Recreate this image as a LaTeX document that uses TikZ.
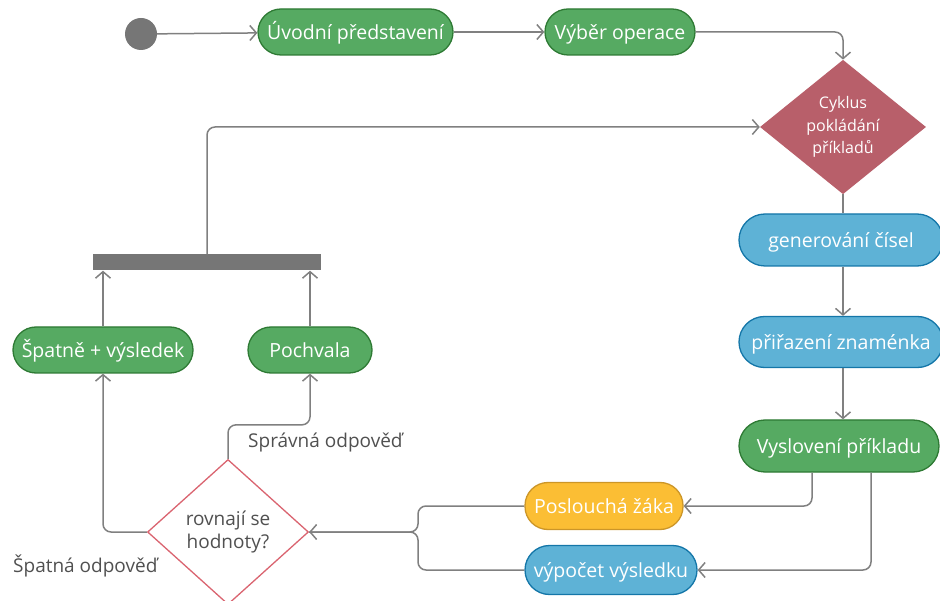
\documentclass[tikz,border=0pt]{standalone}
\usepackage{fontspec}
\setmainfont{Open Sans}
\usetikzlibrary{arrows.meta,shapes.geometric}

\definecolor{gfill}{RGB}{86,170,98}
\definecolor{gline}{RGB}{46,122,52}
\definecolor{bfill}{RGB}{94,178,214}
\definecolor{bline}{RGB}{20,118,168}
\definecolor{yfill}{RGB}{251,190,52}
\definecolor{yline}{RGB}{204,150,40}
\definecolor{crim}{RGB}{184,95,106}
\definecolor{pinkline}{RGB}{218,100,112}
\definecolor{wire}{RGB}{128,128,128}
\definecolor{darkgray}{RGB}{80,80,80}
\definecolor{barfill}{RGB}{118,118,118}

\tikzset{
  pill/.style={rectangle, rounded corners=23pt, draw, line width=1.3pt, minimum height=46pt,
    inner xsep=4pt, inner ysep=0pt, text height=18pt, text depth=3pt,
    text=white, font=\fontsize{19.5}{22}\selectfont},
  greenpill/.style={pill, fill=gfill, draw=gline},
  bluepill/.style={pill, fill=bfill, draw=bline},
  yellowpill/.style={pill, fill=yfill, draw=yline},
  conn/.style={draw=wire, line width=1.5pt, rounded corners=8pt},
  arr/.style={conn, -{Straight Barb[length=6.5pt,width=15pt]}},
  lbl/.style={text=darkgray, font=\fontsize{19}{22}\selectfont, inner sep=0pt}
}

\begin{document}
\begin{tikzpicture}[x=1pt,y=-1pt]
  \useasboundingbox (0,0) rectangle (940,601);

  % start point and first activities
  \node[circle, fill=barfill, minimum size=32pt, inner sep=0pt] (start) at (141,34) {};
  \node[greenpill, minimum width=195pt] (intro) at (355.5,32) {Úvodní představení};
  \node[greenpill, minimum width=150pt] (choice) at (620,32) {Výběr operace};

  % loop decision
  \node[diamond, fill=crim, minimum width=166pt, minimum height=133pt, inner sep=0pt,
        text=white, align=center, font=\fontsize{16}{22.5}\selectfont] (cycle) at (843,127)
        {Cyklus\\pokládání\\příkladů};

  % right column
  \node[bluepill, rounded corners=26pt, minimum width=204pt, minimum height=52pt] (gen) at (841,240) {generování čísel};
  \node[bluepill, rounded corners=25.5pt, minimum width=204pt, minimum height=51pt] (sign) at (841,342) {přiřazení znaménka};
  \node[greenpill, rounded corners=26pt, minimum width=200pt, minimum height=52pt] (say) at (839,446) {Vyslovení příkladu};

  \node[yellowpill, minimum width=158pt, minimum height=47pt] (listen) at (604,506) {Poslouchá žáka};
  \node[bluepill, rounded corners=24.5pt, minimum width=172pt, minimum height=49pt] (calc) at (611,570) {výpočet výsledku};

  % comparison
  \node[diamond, fill=white, draw=pinkline, line width=1.3pt, minimum width=161pt,
        minimum height=145pt, inner sep=0pt, text=darkgray, align=center,
        font=\fontsize{19}{23}\selectfont] (cmp) at (228,532) {rovnají se\\hodnoty?};

  \node[greenpill, minimum width=180pt] (bad) at (103,350) {Špatně + výsledek};
  \node[greenpill, minimum width=124pt] (praise) at (310,350) {Pochvala};

  % join bar
  \node[fill=barfill, minimum width=228pt, minimum height=16pt, inner sep=0pt] (bar) at (207,262.5) {};

  % labels
  \node[lbl, anchor=west] (oklbl) at (248,443) {Správná odpověď};
  \node[lbl, anchor=west] (badlbl) at (13,566) {Špatná odpověď};

  % connectors
  \draw[arr] (start) -- (intro);
  \draw[arr] (intro) -- (choice);
  \draw[arr] (choice.east) -| (cycle.north);
  \draw[conn] (cycle.south) -- (cycle.south |- gen.north);
  \draw[arr] (cycle.south |- gen.south) -- (cycle.south |- sign.north);
  \draw[arr] (cycle.south |- sign.south) -- (cycle.south |- say.north);
  \draw[arr] ([xshift=-27pt]say.south) |- (listen.east);
  \draw[arr] ([xshift=32pt]say.south) |- (calc.east);

  \coordinate (join) at (418,532);
  \draw[conn] (listen.west) -| (join) -- (cmp.east);
  \draw[arr] (calc.west) -| (join) -- (cmp.east);

  \draw[arr] (cmp.west) -| (bad.south);
  \draw[arr] (cmp.north) -- ++(0,-34) -| (praise.south);

  \draw[arr] (bad.north) -- (bad.north |- bar.south);
  \draw[arr] (praise.north) -- (praise.north |- bar.south);
  \draw[arr] (bar.north) |- (cycle.west);
\end{tikzpicture}
\end{document}
